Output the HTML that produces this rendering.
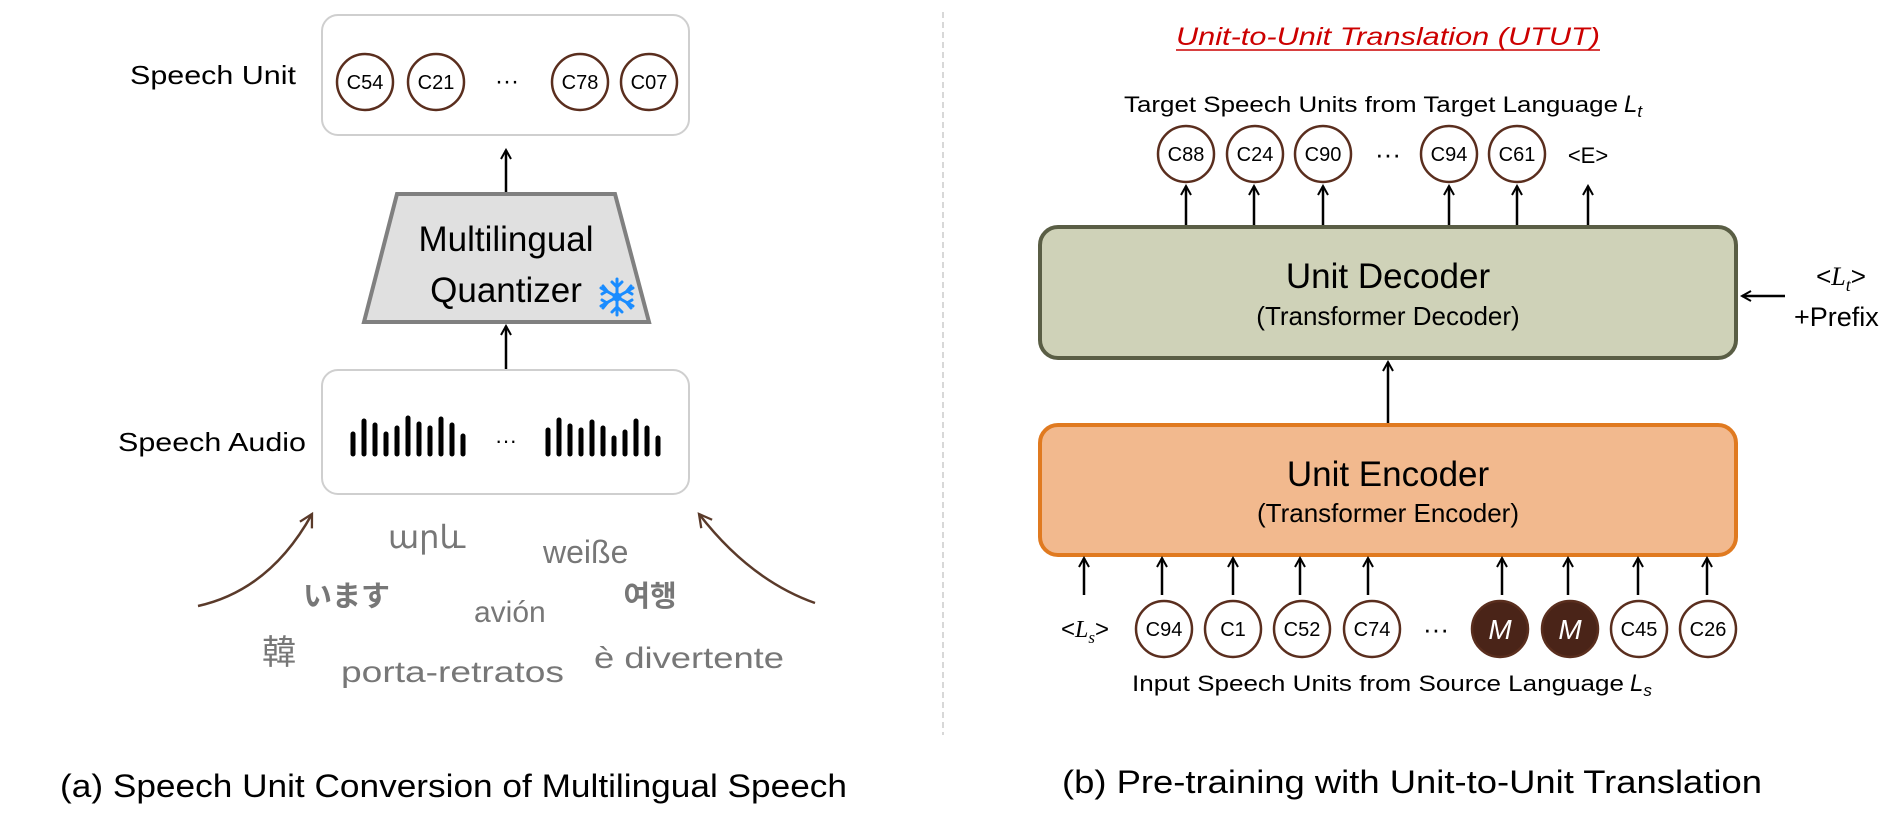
<!DOCTYPE html>
<html><head><meta charset="utf-8"><style>
html,body{margin:0;padding:0;background:#fff;}
svg{display:block;}
text{font-family:"Liberation Sans","Noto Sans CJK KR",sans-serif;}
</style></head><body>
<svg width="1890" height="827" viewBox="0 0 1890 827" xmlns="http://www.w3.org/2000/svg">
<defs>
<marker id="ah" viewBox="0 0 12 12" refX="10" refY="6" markerWidth="12" markerHeight="12" markerUnits="userSpaceOnUse" orient="auto">
<path d="M1,1 L10,6 L1,11" fill="none" stroke="#000" stroke-width="2"/></marker>
<marker id="ahb" viewBox="0 0 14 14" refX="12" refY="7" markerWidth="16" markerHeight="16" markerUnits="userSpaceOnUse" orient="auto">
<path d="M1,1 L12,7 L1,13" fill="none" stroke="#5a3a2a" stroke-width="2"/></marker>
</defs>

<!-- Left panel -->
<rect x="322" y="15" width="367" height="120" rx="16" fill="#fff" stroke="#cfcfcf" stroke-width="2"/>
<text x="213" y="84" font-size="26" text-anchor="middle" textLength="166" lengthAdjust="spacingAndGlyphs">Speech Unit</text>
<g fill="#fff" stroke="#5a2e1e" stroke-width="2.5">
<circle cx="365" cy="82" r="28"/><circle cx="436" cy="82" r="28"/><circle cx="580" cy="82" r="28"/><circle cx="649" cy="82" r="28"/>
</g>
<g font-size="20" text-anchor="middle">
<text x="365" y="89">C54</text><text x="436" y="89">C21</text><text x="580" y="89">C78</text><text x="649" y="89">C07</text>
</g>
<text x="507" y="89" font-size="24" text-anchor="middle">···</text>

<line x1="506" y1="192" x2="506" y2="150" stroke="#000" stroke-width="2.5" marker-end="url(#ah)"/>
<polygon points="397,194 615,194 649,322 364,322" fill="#e0e0e0" stroke="#808080" stroke-width="4"/>
<text x="506" y="251" font-size="35" text-anchor="middle">Multilingual</text>
<text x="506" y="302" font-size="35" text-anchor="middle">Quantizer</text>
<g stroke="#1a8cff" stroke-width="3" stroke-linecap="round" fill="none" transform="translate(617,297)">
<line x1="0" y1="-18" x2="0" y2="18"/><line x1="-16" y1="-9" x2="16" y2="9"/><line x1="-16" y1="9" x2="16" y2="-9"/>
<path d="M-5,-15 L0,-10 L5,-15 M-5,15 L0,10 L5,15 M-15,-3 L-10,-6 L-14,-11 M15,3 L10,6 L14,11 M-15,3 L-10,6 L-14,11 M15,-3 L10,-6 L14,-11"/>
<circle cx="0" cy="0" r="3" fill="#1a8cff"/>
</g>
<line x1="506" y1="370" x2="506" y2="326" stroke="#000" stroke-width="2.5" marker-end="url(#ah)"/>

<rect x="322" y="370" width="367" height="124" rx="16" fill="#fff" stroke="#cfcfcf" stroke-width="2"/>
<text x="212" y="451" font-size="26" text-anchor="middle" textLength="188" lengthAdjust="spacingAndGlyphs">Speech Audio</text>
<g stroke="#000" stroke-width="5" stroke-linecap="round">
<line x1="353" y1="434" x2="353" y2="454"/><line x1="364" y1="421" x2="364" y2="454"/><line x1="375" y1="425" x2="375" y2="454"/><line x1="386" y1="434" x2="386" y2="454"/><line x1="397" y1="428" x2="397" y2="454"/><line x1="408" y1="418" x2="408" y2="454"/><line x1="419" y1="424" x2="419" y2="454"/><line x1="430" y1="428" x2="430" y2="454"/><line x1="441" y1="419" x2="441" y2="454"/><line x1="452" y1="425" x2="452" y2="454"/><line x1="463" y1="436" x2="463" y2="454"/>
<line x1="548" y1="430" x2="548" y2="454"/><line x1="559" y1="420" x2="559" y2="454"/><line x1="570" y1="426" x2="570" y2="454"/><line x1="581" y1="430" x2="581" y2="454"/><line x1="592" y1="422" x2="592" y2="454"/><line x1="603" y1="428" x2="603" y2="454"/><line x1="614" y1="438" x2="614" y2="454"/><line x1="625" y1="432" x2="625" y2="454"/><line x1="636" y1="421" x2="636" y2="454"/><line x1="647" y1="428" x2="647" y2="454"/><line x1="658" y1="438" x2="658" y2="454"/>
</g>
<text x="506" y="448" font-size="22" text-anchor="middle">···</text>

<path d="M198,606 Q270,590 312,514" fill="none" stroke="#5a3a2a" stroke-width="2.5" marker-end="url(#ahb)"/>
<path d="M815,603 Q750,580 699,514" fill="none" stroke="#5a3a2a" stroke-width="2.5" marker-end="url(#ahb)"/>

<g fill="#777" font-size="32">
<text x="388" y="548">արև</text>
<text x="543" y="563">weiße</text>
<text x="303" y="606" font-weight="bold" font-size="29" font-family="'Noto Sans CJK JP',sans-serif">います</text>
<text x="474" y="622" font-size="30">avión</text>
<text x="650" y="606" font-weight="bold" font-size="29" text-anchor="middle" font-family="'Noto Sans CJK KR',sans-serif">여행</text>
<text x="262" y="664" font-size="34" font-family="'Noto Sans CJK TC',sans-serif">韓</text>
<text x="341" y="682" font-size="30" textLength="223" lengthAdjust="spacingAndGlyphs">porta-retratos</text>
<text x="594" y="668" font-size="30" textLength="190" lengthAdjust="spacingAndGlyphs">è divertente</text>
</g>
<text x="60" y="797" font-size="32" textLength="787" lengthAdjust="spacingAndGlyphs">(a) Speech Unit Conversion of Multilingual Speech</text>

<line x1="943" y1="12" x2="943" y2="735" stroke="#ccc" stroke-width="1.5" stroke-dasharray="6,4"/>

<!-- Right panel -->
<text x="1176" y="45" font-size="25" font-style="italic" fill="#cc0000" textLength="424" lengthAdjust="spacingAndGlyphs">Unit-to-Unit Translation (UTUT)</text>
<line x1="1176" y1="50" x2="1600" y2="50" stroke="#cc0000" stroke-width="1.5"/>
<text x="1124" y="112" font-size="22" textLength="494" lengthAdjust="spacingAndGlyphs">Target Speech Units from Target Language</text>
<text x="1624" y="112" font-size="24" font-style="italic" font-family="'Liberation Serif',serif">L<tspan font-size="17" dy="5">t</tspan></text>

<g fill="#fff" stroke="#5a2e1e" stroke-width="2.5">
<circle cx="1186" cy="154" r="28"/><circle cx="1255" cy="154" r="28"/><circle cx="1323" cy="154" r="28"/><circle cx="1449" cy="154" r="28"/><circle cx="1517" cy="154" r="28"/>
</g>
<g font-size="20" text-anchor="middle">
<text x="1186" y="161">C88</text><text x="1255" y="161">C24</text><text x="1323" y="161">C90</text><text x="1449" y="161">C94</text><text x="1517" y="161">C61</text>
<text x="1588" y="163" font-size="22">&lt;E&gt;</text>
<text x="1388" y="163" font-size="26">···</text>
</g>
<g stroke="#000" stroke-width="2.5" marker-end="url(#ah)">
<line x1="1186" y1="226" x2="1186" y2="186"/><line x1="1254" y1="226" x2="1254" y2="186"/><line x1="1323" y1="226" x2="1323" y2="186"/><line x1="1449" y1="226" x2="1449" y2="186"/><line x1="1517" y1="226" x2="1517" y2="186"/><line x1="1588" y1="226" x2="1588" y2="186"/>
</g>

<rect x="1040" y="227" width="696" height="131" rx="18" fill="#cfd2b8" stroke="#5a5e45" stroke-width="4"/>
<text x="1388" y="288" font-size="35" text-anchor="middle">Unit Decoder</text>
<text x="1388" y="325" font-size="26" text-anchor="middle">(Transformer Decoder)</text>
<line x1="1785" y1="296" x2="1742" y2="296" stroke="#000" stroke-width="2.5" marker-end="url(#ah)"/>
<text x="1841" y="285" font-size="26" text-anchor="middle">&lt;<tspan font-style="italic" font-family="'Liberation Serif',serif">L</tspan><tspan font-style="italic" font-family="'Liberation Serif',serif" font-size="18" dy="6">t</tspan><tspan dy="-6">&gt;</tspan></text>
<text x="1794" y="326" font-size="27">+Prefix</text>

<line x1="1388" y1="424" x2="1388" y2="362" stroke="#000" stroke-width="2.5" marker-end="url(#ah)"/>

<rect x="1040" y="425" width="696" height="130" rx="18" fill="#f2b98e" stroke="#e07a20" stroke-width="4"/>
<text x="1388" y="486" font-size="35" text-anchor="middle">Unit Encoder</text>
<text x="1388" y="522" font-size="26" text-anchor="middle">(Transformer Encoder)</text>

<g stroke="#000" stroke-width="2.5" marker-end="url(#ah)">
<line x1="1084" y1="595" x2="1084" y2="558"/><line x1="1162" y1="595" x2="1162" y2="558"/><line x1="1233" y1="595" x2="1233" y2="558"/><line x1="1300" y1="595" x2="1300" y2="558"/><line x1="1368" y1="595" x2="1368" y2="558"/><line x1="1502" y1="595" x2="1502" y2="558"/><line x1="1568" y1="595" x2="1568" y2="558"/><line x1="1638" y1="595" x2="1638" y2="558"/><line x1="1707" y1="595" x2="1707" y2="558"/>
</g>
<g stroke="#5a2e1e" stroke-width="2.5" fill="#fff">
<circle cx="1164" cy="629" r="28"/><circle cx="1233" cy="629" r="28"/><circle cx="1302" cy="629" r="28"/><circle cx="1372" cy="629" r="28"/>
<circle cx="1500" cy="629" r="28" fill="#4a2418"/><circle cx="1570" cy="629" r="28" fill="#4a2418"/>
<circle cx="1639" cy="629" r="28"/><circle cx="1708" cy="629" r="28"/>
</g>
<g font-size="20" text-anchor="middle">
<text x="1164" y="636">C94</text><text x="1233" y="636">C1</text><text x="1302" y="636">C52</text><text x="1372" y="636">C74</text>
<text x="1639" y="636">C45</text><text x="1708" y="636">C26</text>
<text x="1436" y="638" font-size="26">···</text>
<text x="1500" y="639" font-size="28" fill="#fff" font-style="italic" font-family="'Liberation Serif',serif">M</text>
<text x="1570" y="639" font-size="28" fill="#fff" font-style="italic" font-family="'Liberation Serif',serif">M</text>
</g>
<text x="1085" y="637" font-size="24" text-anchor="middle">&lt;<tspan font-style="italic" font-family="'Liberation Serif',serif">L</tspan><tspan font-style="italic" font-family="'Liberation Serif',serif" font-size="17" dy="6">s</tspan><tspan dy="-6">&gt;</tspan></text>
<text x="1132" y="691" font-size="22" textLength="492" lengthAdjust="spacingAndGlyphs">Input Speech Units from Source Language</text>
<text x="1630" y="691" font-size="24" font-style="italic" font-family="'Liberation Serif',serif">L<tspan font-size="17" dy="5">s</tspan></text>

<text x="1062" y="793" font-size="32" textLength="700" lengthAdjust="spacingAndGlyphs">(b) Pre-training with Unit-to-Unit Translation</text>
</svg>
</body></html>
